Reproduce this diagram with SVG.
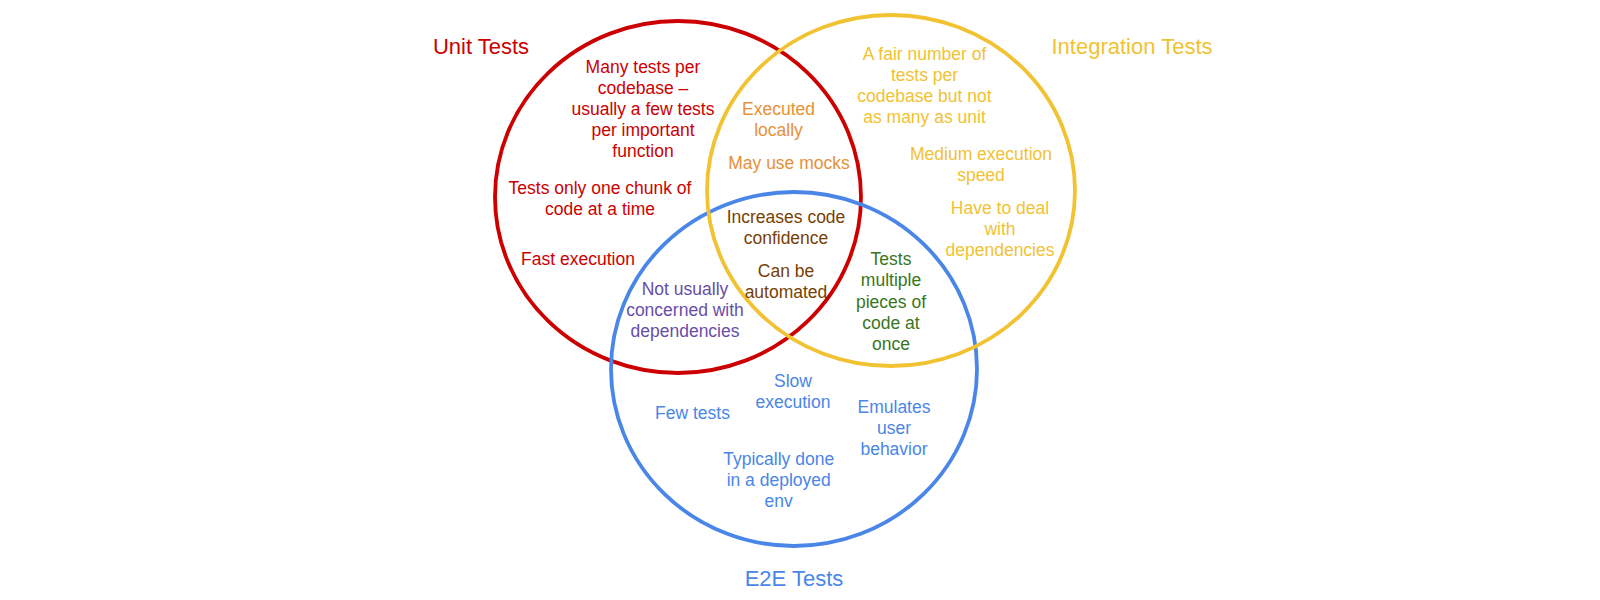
<svg xmlns="http://www.w3.org/2000/svg" width="1600" height="600" viewBox="0 0 1600 600">
  <style>
    .ring { fill: none; stroke-width: 3.8; }
    text { font-family: "Liberation Sans", Arial, sans-serif; font-size: 17.5px; text-anchor: middle; }
    .title { font-size: 22px; }
    .red { fill: #cc0000; }
    .yellow { fill: #f1c232; }
    .blue { fill: #4a86e8; }
    .orange { fill: #e69138; }
    .brown { fill: #783f04; }
    .green { fill: #38761d; }
    .purple { fill: #674ea7; }
  </style>
  <rect width="1600" height="600" fill="#ffffff"/>

  <!-- Venn circles -->
  <g id="circles">
    <ellipse id="unit-circle" class="ring" cx="678" cy="197" rx="183" ry="176" stroke="#cc0000"/>
    <ellipse id="e2e-circle" class="ring" cx="794" cy="369" rx="183" ry="177" stroke="#4a86e8"/>
    <ellipse id="integration-circle" class="ring" cx="891" cy="190.5" rx="184" ry="175.5" stroke="#f1c232"/>
  </g>

  <!-- Set titles -->
  <g id="titles">
    <text class="title red" x="481" y="53.5">Unit Tests</text>
    <text class="title yellow" x="1132" y="53.5">Integration Tests</text>
    <text class="title blue" x="794" y="586">E2E Tests</text>
  </g>

  <!-- Unit only -->
  <g id="unit-only" class="red">
    <text x="643" y="73">Many tests per</text>
    <text x="643" y="94">codebase –</text>
    <text x="643" y="115">usually a few tests</text>
    <text x="643" y="136">per important</text>
    <text x="643" y="157">function</text>
    <text x="600" y="193.5">Tests only one chunk of</text>
    <text x="600" y="214.5">code at a time</text>
    <text x="578" y="265">Fast execution</text>
  </g>

  <!-- Unit ∩ Integration -->
  <g id="unit-integration" class="orange">
    <text x="778.5" y="115">Executed</text>
    <text x="778.5" y="136">locally</text>
    <text x="789" y="169">May use mocks</text>
  </g>

  <!-- All three -->
  <g id="all-three" class="brown">
    <text x="786" y="222.7">Increases code</text>
    <text x="786" y="243.7">confidence</text>
    <text x="786" y="276.7">Can be</text>
    <text x="786" y="297.7">automated</text>
  </g>

  <!-- Unit ∩ E2E -->
  <g id="unit-e2e" class="purple">
    <text x="685" y="295">Not usually</text>
    <text x="685" y="316">concerned with</text>
    <text x="685" y="337">dependencies</text>
  </g>

  <!-- Integration only -->
  <g id="integration-only" class="yellow">
    <text x="924.5" y="60">A fair number of</text>
    <text x="924.5" y="81">tests per</text>
    <text x="924.5" y="102">codebase but not</text>
    <text x="924.5" y="123">as many as unit</text>
    <text x="981" y="159.5">Medium execution</text>
    <text x="981" y="180.5">speed</text>
    <text x="1000" y="214">Have to deal</text>
    <text x="1000" y="235">with</text>
    <text x="1000" y="256">dependencies</text>
  </g>

  <!-- Integration ∩ E2E -->
  <g id="integration-e2e" class="green">
    <text x="891" y="265">Tests</text>
    <text x="891" y="286">multiple</text>
    <text x="891" y="307.5">pieces of</text>
    <text x="891" y="329">code at</text>
    <text x="891" y="350">once</text>
  </g>

  <!-- E2E only -->
  <g id="e2e-only" class="blue">
    <text x="793" y="386.7">Slow</text>
    <text x="793" y="407.7">execution</text>
    <text x="692.5" y="419.3">Few tests</text>
    <text x="894" y="413.3">Emulates</text>
    <text x="894" y="434.3">user</text>
    <text x="894" y="455.3">behavior</text>
    <text x="778.7" y="465">Typically done</text>
    <text x="778.7" y="486">in a deployed</text>
    <text x="778.7" y="507">env</text>
  </g>
</svg>
